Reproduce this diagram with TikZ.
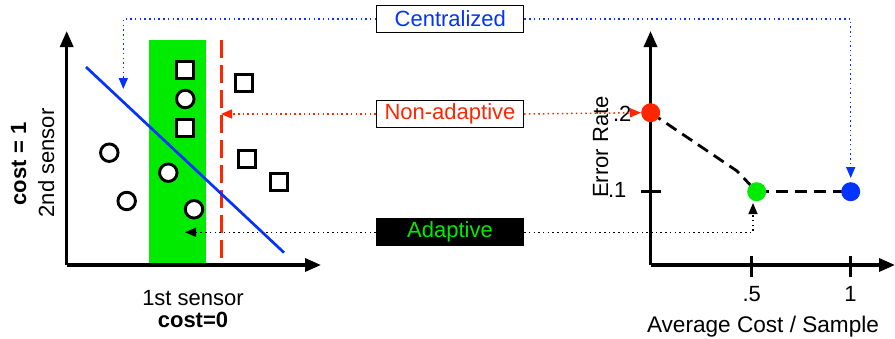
\documentclass[tikz,border=0pt]{standalone}
\usepackage{fontspec}
\setmainfont{Liberation Sans}
\usetikzlibrary{arrows.meta}
\definecolor{cgreen}{RGB}{0,235,0}
\definecolor{cred}{RGB}{255,38,0}
\definecolor{cblue}{RGB}{4,51,255}
\tikzset{
  every node/.style={font=\fontsize{22}{26}\selectfont},
  axis/.style={line width=3.3pt,-{Triangle[length=16pt,width=13pt]}},
  sq/.style={draw,line width=2.9pt,minimum size=17pt,inner sep=0pt,fill=white},
  circ/.style={draw,circle,line width=2.9pt,minimum size=17.5pt,inner sep=0pt,fill=white},
  lbox/.style={draw,line width=1.3pt,minimum width=147pt,minimum height=26.5pt,inner sep=0pt},
  dotline/.style={line width=1.5pt,dash pattern=on 1.5pt off 3.2pt},
  tip/.style={-{Triangle[length=11pt,width=9pt]}},
  dot/.style={circle,minimum size=19pt,inner sep=0pt},
  tick/.style={line width=2.8pt},
  bdash/.style={line width=2.8pt,dash pattern=on 12pt off 7pt},
}
\begin{document}
\begin{tikzpicture}[x=1pt,y=-1pt]
\useasboundingbox (0,0) rectangle (895,338);
% ---------- left plot ----------
\fill[cgreen] (149,40) rectangle (206,265);
\coordinate (lo) at (66.7,265);
\coordinate (ltop) at (66.7,31);
\coordinate (lright) at (321,265);
\draw[cred,line width=3pt,dash pattern=on 18pt off 7pt] (221,40) coordinate (rtop) -- (221,265) coordinate (rbot);
\draw[cblue,line width=2.7pt] (86,67) coordinate (b1) -- (284,252.6) coordinate (b2);
\draw[axis] (lo) -- (ltop);
\draw[axis] (lo) -- (lright);
\node[sq] (s1) at (185.3,70) {};
\node[sq] (s2) at (244.3,83.3) {};
\node[sq] (s3) at (185.3,127.7) {};
\node[sq] (s4) at (246.7,159.3) {};
\node[sq] (s5) at (279.3,181.7) {};
\node[circ] (c1) at (185.3,99) {};
\node[circ] (c2) at (109.3,152.7) {};
\node[circ] (c3) at (126.7,201) {};
\node[circ] (c4) at (168.3,172.7) {};
\node[circ] (c5) at (194,209.3) {};
\node[rotate=90,anchor=base,font=\fontsize{22}{26}\selectfont\bfseries] (cost1) at (26,164) {cost = 1};
\node[rotate=90,anchor=base] (snd) at (54,163) {2nd sensor};
\node[anchor=base] (fst) at (193,305) {1st sensor};
\node[anchor=base,font=\fontsize{22}{26}\selectfont\bfseries] (cost0) at (193,327.5) {cost=0};
% ---------- right plot ----------
\coordinate (ro) at (650.5,265);
\coordinate (rtopax) at (650.5,31);
\coordinate (rright) at (895,265);
\draw[axis] (ro) -- (rtopax);
\draw[axis] (ro) -- (rright);
\draw[tick] (751.7,256) -- (751.7,277);
\draw[tick] (850.5,256) -- (850.5,277);
\draw[tick] (641,191.5) -- (661,191.5);
\node[anchor=base] (t5) at (751.7,301.5) {.5};
\node[anchor=base] (t1) at (850.5,301.5) {1};
\node[anchor=base,font=\fontsize{22.6}{26}\selectfont] (xl) at (763,332.5) {Average Cost / Sample};
\node[anchor=base east] (t2) at (635,121) {.2};
\node[anchor=base east] (t1y) at (630,197) {.1};
\node[rotate=90,anchor=base] (yl) at (608,147) {Error Rate};
\coordinate (rp) at (650.7,112.7);
\coordinate (gp) at (756.7,191.7);
\coordinate (bp) at (850.7,191.7);
\coordinate (bend) at (737,171);
\draw[bdash] (rp) -- (bend) -- (gp);
\draw[bdash] (gp) -- (bp);
\node[dot,fill=cred] (rdot) at (rp) {};
\node[dot,fill=cgreen] (gdot) at (gp) {};
\node[dot,fill=cblue] (bdot) at (bp) {};
% ---------- legend boxes ----------
\node[lbox,fill=white,text=cblue] (cent) at (450.3,19) {Centralized};
\node[lbox,fill=white,text=cred] (nonad) at (450,114) {Non-adaptive};
\node[lbox,fill=black,text=cgreen] (adapt) at (450,232.3) {Adaptive};
\coordinate (ctip) at (123.3,89);
\coordinate (btip) at (850.7,178);
\coordinate (ntip) at (221,114);
\coordinate (atip) at (185,232.3);
\coordinate (gtip) at (753,203);
\draw[cblue,dotline,tip] (cent.west) -| (ctip);
\draw[cblue,dotline,tip] (cent.east) -| (btip);
\draw[cred,dotline,tip] (nonad.west) -- (ntip);
\draw[cred,dotline,tip] (nonad.east) -- (rdot.west);
\draw[black,dotline,tip] (adapt.west) -- (atip);
\draw[black,dotline,tip] (adapt.east) -| (gtip);
\end{tikzpicture}
\end{document}
